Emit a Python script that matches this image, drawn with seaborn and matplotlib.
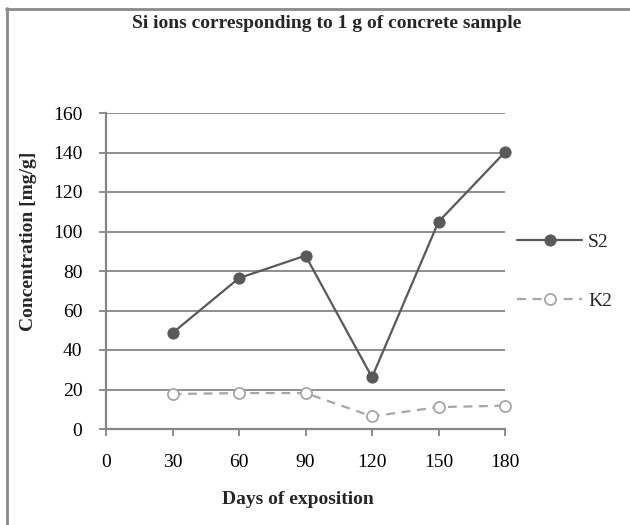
import matplotlib
matplotlib.use("Agg")
import matplotlib.pyplot as plt
import seaborn as sns
import pandas as pd
from matplotlib.lines import Line2D

days = [30, 60, 90, 120, 150, 180]
s2 = [48.6, 76.4, 87.8, 26.2, 104.9, 140.2]
k2 = [17.7, 18.2, 18.2, 6.4, 11.1, 11.8]
x_ticks = [0, 30, 60, 90, 120, 150, 180]
y_ticks = [0, 20, 40, 60, 80, 100, 120, 140, 160]

sns.set_theme()
sns.set_style("white")
plt.rcParams["font.family"] = ["Liberation Serif", "DejaVu Serif"]

df = pd.DataFrame({"days": days, "S2": s2, "K2": k2})

W, H = 630, 525
fig = plt.figure(figsize=(6.3, 5.25), dpi=100)
ax = fig.add_axes([106 / W, 1 - 429 / H, 399 / W, 316 / H])

grid_col = "#868686"
for y in y_ticks[1:]:
    ax.axhline(y, color=grid_col, lw=1.3, zorder=0)

sns.lineplot(data=df, x="days", y="S2", ax=ax, color="#595959", lw=1.6,
             marker="o", markersize=8, markeredgecolor="#595959",
             markerfacecolor="#595959", label="S2", clip_on=False)
sns.lineplot(data=df, x="days", y="K2", ax=ax, color="#A6A6A6", lw=1.6,
             linestyle=(0, (4, 3)), marker="o", markersize=8,
             markeredgecolor="#A6A6A6", markerfacecolor="white",
             markeredgewidth=1.3, label="K2", clip_on=False)

ax.set_xlim(0, 180)
ax.set_ylim(0, 160)
ax.set_xticks(x_ticks)
ax.set_yticks(y_ticks)
ax.tick_params(axis="both", direction="out", length=5, width=1.3,
               color=grid_col, labelsize=14, labelcolor="black",
               left=True, bottom=True)
ax.tick_params(axis="y", pad=12)
ax.tick_params(axis="x", pad=13)
for side in ["top", "right"]:
    ax.spines[side].set_visible(False)
for side in ["left", "bottom"]:
    ax.spines[side].set_color(grid_col)
    ax.spines[side].set_linewidth(1.6)

ax.set_xlabel("Days of exposition", fontsize=14, fontweight="bold", va="center")
ax.xaxis.set_label_coords((298 - 106) / 399, (429 - 500) / 316)
ax.set_ylabel("Concentration [mg/g]", fontsize=14, fontweight="bold", va="center")
ax.yaxis.set_label_coords((28 - 106) / 399, (429 - 241) / 316)
fig.text(327 / W, 1 - 23 / H, "Si ions corresponding to 1 g of concrete sample",
         fontsize=14, fontweight="bold", ha="center", va="center")

ax.legend(loc="center left", bbox_to_anchor=(517 / W, 1 - 271.5 / H),
          bbox_transform=fig.transFigure, frameon=False, fontsize=14,
          handlelength=3.35, labelspacing=2.1, handletextpad=0.3,
          borderpad=0, borderaxespad=0)

# chart frame: only top and left edges are visible in the crop
fig.add_artist(Line2D([6 / W, 1], [1 - 9 / H, 1 - 9 / H], transform=fig.transFigure,
                      color="#8a8a8a", lw=2))
fig.add_artist(Line2D([7 / W, 7 / W], [0, 1 - 8 / H], transform=fig.transFigure,
                      color="#8a8a8a", lw=2))

fig.savefig("out.png", dpi=100)
